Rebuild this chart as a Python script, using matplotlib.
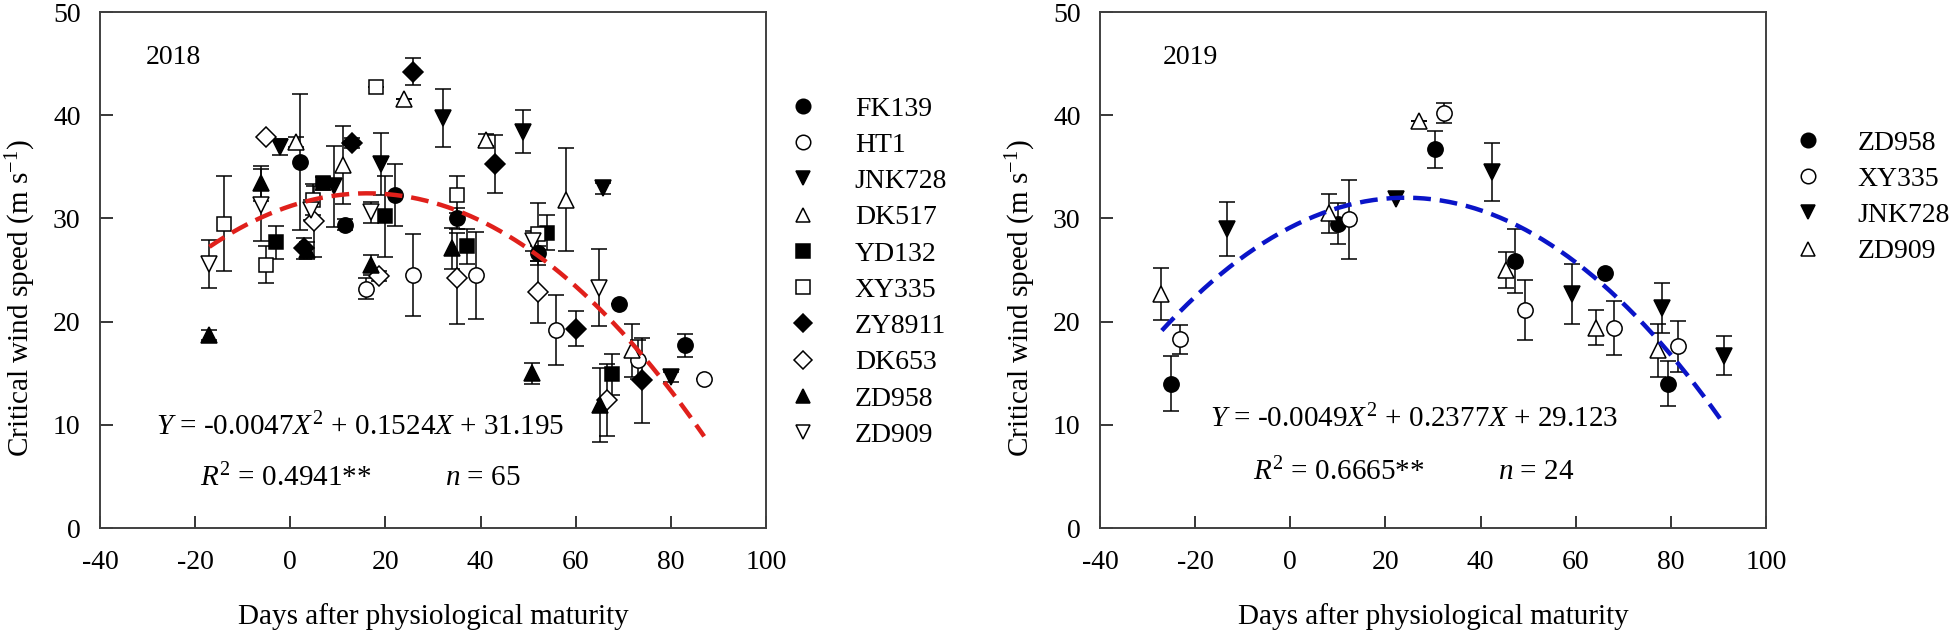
import matplotlib
matplotlib.use("Agg")
import matplotlib.pyplot as plt
from matplotlib.lines import Line2D
import numpy as np

plt.rcParams['font.family'] = 'serif'
plt.rcParams['font.serif'] = ['Liberation Serif', 'DejaVu Serif']
plt.rcParams['mathtext.fontset'] = 'custom'
plt.rcParams['mathtext.rm'] = 'Liberation Serif'
plt.rcParams['mathtext.it'] = 'Liberation Serif:italic'
plt.rcParams['axes.unicode_minus'] = False

# ---- 2018 data: days after physiological maturity, critical wind speed, error ----
fk139_day = [2.1, 11.6, 22.1, 35.0, 52.0, 69.1, 83.0]
fk139_cws = [35.5, 29.4, 32.3, 30.0, 26.6, 21.7, 17.7]
fk139_err = [6.6, 0.5, 3.0, 1.0, 0.7, 0.0, 1.1]

ht1_day = [15.9, 25.8, 39.0, 55.8, 73.0, 87.0]
ht1_cws = [23.2, 24.5, 24.5, 19.2, 16.3, 14.4]
ht1_err = [1.0, 4.0, 4.2, 3.4, 1.9, 0.0]

jnk728_day = [-2.1, 9.2, 19.0, 32.0, 48.9, 65.8, 80.0]
jnk728_cws = [36.9, 33.1, 35.3, 39.7, 38.4, 32.9, 14.6]
jnk728_err = [0.8, 3.9, 3.0, 2.8, 2.1, 0.5, 0.5]

dk517_day = [1.2, 11.0, 24.0, 41.1, 57.9, 71.9]
dk517_cws = [37.4, 35.2, 41.6, 37.6, 31.8, 17.2]
dk517_err = [0.5, 3.8, 0.0, 0.6, 5.0, 2.6]

yd132_day = [-3.0, 6.8, 20.0, 37.1, 53.9, 67.7]
yd132_cws = [27.7, 33.4, 30.2, 27.3, 28.6, 14.9]
yd132_err = [1.6, 0.6, 3.9, 1.7, 1.7, 2.0]

xy335_day = [-14.0, -5.1, 4.8, 18.0, 35.0, 52.0]
xy335_cws = [29.5, 25.5, 31.8, 42.7, 32.3, 28.5]
xy335_err = [4.6, 1.8, 1.5, 0.0, 1.8, 3.0]

zy8911_day = [2.9, 13.0, 25.9, 43.1, 60.0, 73.9]
zy8911_cws = [27.1, 37.3, 44.2, 35.3, 19.3, 14.3]
zy8911_err = [1.0, 0.5, 1.3, 2.8, 1.7, 4.1]

dk653_day = [-5.1, 5.0, 18.7, 35.0, 52.0, 66.5]
dk653_cws = [37.9, 29.7, 24.4, 24.2, 22.9, 12.4]
dk653_err = [0.0, 3.4, 0.5, 4.4, 3.0, 3.5]

zd958_day = [-17.0, -6.2, 3.5, 17.0, 33.9, 50.9, 65.1]
zd958_cws = [18.7, 33.4, 26.9, 25.5, 27.1, 15.0, 11.9]
zd958_err = [0.5, 1.7, 0.8, 1.0, 2.0, 1.0, 3.6]

zd909_day = [-17.0, -6.2, 4.3, 17.0, 51.1, 64.9]
zd909_cws = [25.6, 31.3, 30.8, 30.6, 27.8, 23.3]
zd909_err = [2.3, 3.5, 1.0, 1.0, 1.0, 3.7]

# ---- 2019 data ----
zd958b_day = [-25.1, 10.1, 30.4, 47.2, 66.2, 79.3]
zd958b_cws = [14.0, 29.5, 36.7, 25.9, 24.7, 14.0]
zd958b_err = [2.7, 2.0, 1.8, 3.1, 0.0, 2.2]

xy335b_day = [-23.2, 12.4, 32.3, 49.3, 68.1, 81.4]
xy335b_cws = [18.3, 29.9, 40.2, 21.1, 19.4, 17.6]
xy335b_err = [1.4, 3.8, 1.0, 2.9, 2.6, 2.5]

jnk728b_day = [-13.4, 22.2, 42.3, 59.3, 78.2, 91.2]
jnk728b_cws = [29.0, 31.9, 34.5, 22.7, 21.3, 16.7]
jnk728b_err = [2.6, 0.0, 2.8, 2.9, 2.4, 1.9]

zd909b_day = [-27.2, 8.1, 27.0, 45.3, 64.2, 77.2]
zd909b_cws = [22.7, 30.5, 39.4, 25.0, 19.4, 17.2]
zd909b_err = [2.5, 1.9, 0.0, 1.7, 1.7, 2.6]

# quadratic fits
fit18 = [-0.0047, 0.1524, 31.195]
fit18_range = [-17, 87]
fit19 = [-0.0049, 0.2377, 29.123]
fit19_range = [-27, 91]

# marker style: (marker, filled)
STYLE = {
    'FK139': ('o', True), 'HT1': ('o', False), 'JNK728': ('v', True),
    'DK517': ('^', False), 'YD132': ('s', True), 'XY335': ('s', False),
    'ZY8911': ('D', True), 'DK653': ('D', False), 'ZD958': ('^', True),
    'ZD909': ('v', False),
}

series18 = [
    ('FK139', fk139_day, fk139_cws, fk139_err),
    ('HT1', ht1_day, ht1_cws, ht1_err),
    ('JNK728', jnk728_day, jnk728_cws, jnk728_err),
    ('DK517', dk517_day, dk517_cws, dk517_err),
    ('YD132', yd132_day, yd132_cws, yd132_err),
    ('XY335', xy335_day, xy335_cws, xy335_err),
    ('ZY8911', zy8911_day, zy8911_cws, zy8911_err),
    ('DK653', dk653_day, dk653_cws, dk653_err),
    ('ZD958', zd958_day, zd958_cws, zd958_err),
    ('ZD909', zd909_day, zd909_cws, zd909_err),
]
# in 2019 the symbols were reassigned
series19 = [
    ('ZD958', zd958b_day, zd958b_cws, zd958b_err, ('o', True)),
    ('XY335', xy335b_day, xy335b_cws, xy335b_err, ('o', False)),
    ('JNK728', jnk728b_day, jnk728b_cws, jnk728b_err, ('v', True)),
    ('ZD909', zd909b_day, zd909b_cws, zd909b_err, ('^', False)),
]

MSIZE = {'o': 11, 's': 10.5, 'D': 10, '^': 11, 'v': 11}
FS = 20


def draw_series(ax, day, cws, err, style):
    mk, filled = style
    ax.errorbar(day, cws, yerr=err, fmt='none', ecolor='black', elinewidth=1.1,
                capsize=6, capthick=1.1, zorder=2)
    ax.plot(day, cws, linestyle='none', marker=mk, markersize=MSIZE[mk],
            markerfacecolor='black' if filled else 'white',
            markeredgecolor='black', markeredgewidth=1.1, zorder=3)


def legend_handle(style):
    mk, filled = style
    return Line2D([], [], linestyle='none', marker=mk, markersize=MSIZE[mk] * 0.95,
                  markerfacecolor='black' if filled else 'white',
                  markeredgecolor='black', markeredgewidth=1.1)


def style_axes(ax):
    ax.set_xlim(-40, 100)
    ax.set_ylim(0, 50)
    ax.set_xticks(np.arange(-40, 101, 20))
    ax.set_yticks(np.arange(0, 51, 10))
    ax.tick_params(direction='in', length=9, width=1.1, labelsize=FS,
                   top=False, right=False)
    ax.tick_params(axis='y', pad=14)
    ax.tick_params(axis='x', pad=16)
    for sp in ax.spines.values():
        sp.set_linewidth(1.4)
        sp.set_color('#404040')
    ax.set_xlabel('Days after physiological maturity', fontsize=FS + 1)
    ax.set_ylabel(r'Critical wind speed (m s$^{-1}$)', fontsize=FS + 1)
    ax.xaxis.set_label_coords(0.5, -0.145)
    ax.yaxis.set_label_coords(-0.093, 0.446)


fig = plt.figure(figsize=(19.6, 6.34), dpi=100)
ax1 = fig.add_axes([0.05102, 0.16719, 0.33980, 0.81388])
ax2 = fig.add_axes([0.56122, 0.16719, 0.33980, 0.81388])

# ---- 2018 ----
for name, d, c, e in series18:
    draw_series(ax1, d, c, e, STYLE[name])
xf = np.linspace(fit18_range[0], fit18_range[1], 200)
ax1.plot(xf, np.polyval(fit18, xf), color='#e0201b', linewidth=3.2,
         dashes=(4, 2), zorder=4)
style_axes(ax1)
ax1.text(-24.5, 45.6, '2018', fontsize=FS, ha='center', va='center')
ax1.text(14.7, 9.8, r'$Y$ = -0.0047$X^2$ + 0.1524$X$ + 31.195', fontsize=FS + 1,
         ha='center', va='center')
ax1.text(-19.0, 4.8, r'$R^2$ = 0.4941**', fontsize=FS + 1, ha='left', va='center')
ax1.text(32.5, 4.8, r'$n$ = 65', fontsize=FS + 1, ha='left', va='center')
ax1.legend([legend_handle(STYLE[s[0]]) for s in series18], [s[0] for s in series18],
           loc='upper left', bbox_to_anchor=(1.0345, 0.837), frameon=False,
           fontsize=FS, handlelength=1.0, handletextpad=1.37, labelspacing=0.39,
           borderpad=0, borderaxespad=0)

# ---- 2019 ----
for name, d, c, e, st in series19:
    draw_series(ax2, d, c, e, st)
xf = np.linspace(fit19_range[0], fit19_range[1], 200)
ax2.plot(xf, np.polyval(fit19, xf), color='#0a14c8', linewidth=3.2,
         dashes=(4, 2), zorder=4)
style_axes(ax2)
ax2.text(-21, 45.6, '2019', fontsize=FS, ha='center', va='center')
ax2.text(26.0, 10.6, r'$Y$ = -0.0049$X^2$ + 0.2377$X$ + 29.123', fontsize=FS + 1,
         ha='center', va='center')
ax2.text(-7.8, 5.4, r'$R^2$ = 0.6665**', fontsize=FS + 1, ha='left', va='center')
ax2.text(43.7, 5.4, r'$n$ = 24', fontsize=FS + 1, ha='left', va='center')
ax2.legend([legend_handle(s[4]) for s in series19], [s[0] for s in series19],
           loc='upper left', bbox_to_anchor=(1.042, 0.771), frameon=False,
           fontsize=FS, handlelength=1.0, handletextpad=1.30, labelspacing=0.39,
           borderpad=0, borderaxespad=0)

fig.savefig('out.png', dpi=100)
